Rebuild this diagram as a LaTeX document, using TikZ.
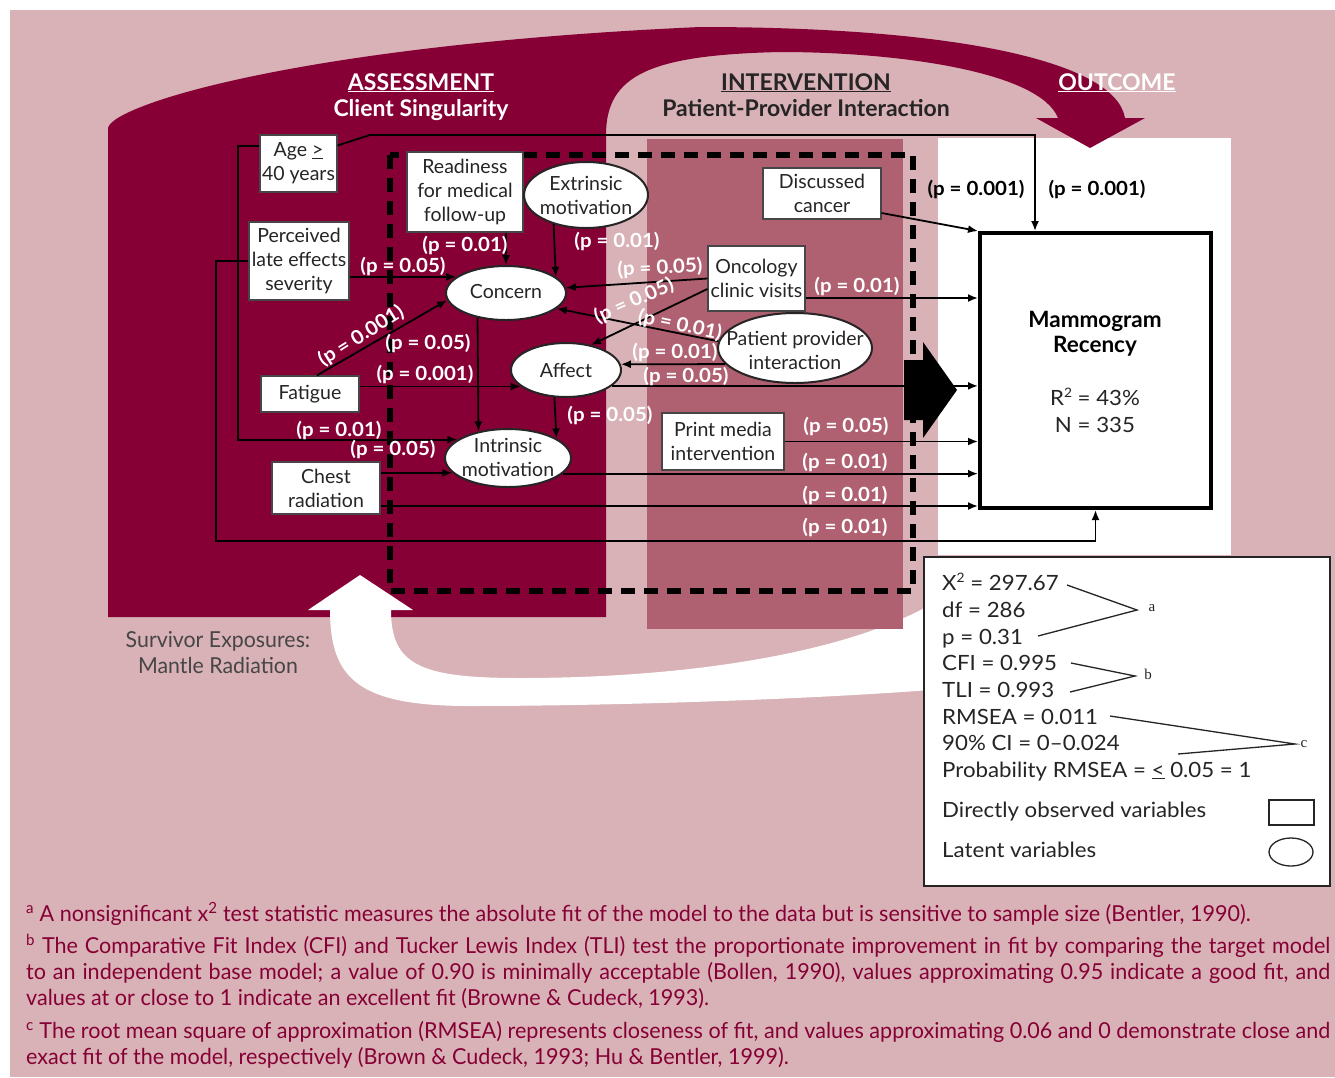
\documentclass[tikz,border=0pt]{standalone}
\usepackage{fontspec}
\setmainfont{Lato}
\newfontfamily\fnfont[FakeStretch=0.98]{Lato}
\newfontfamily\condfont[FakeStretch=0.97]{Lato}
\newfontfamily\legfont[FakeStretch=1.06]{Lato}
\newfontfamily\labfont[FakeStretch=1.05]{Lato}
\newfontfamily\serifsm{Liberation Serif}
\usetikzlibrary{shapes.geometric,arrows.meta,calc}
\definecolor{maroonD}{RGB}{134,0,54}
\definecolor{pinkL}{RGB}{216,178,182}
\definecolor{pinkM}{RGB}{176,97,113}
\definecolor{ink}{RGB}{38,36,37}
\newcommand\fnode{\fontsize{19.5}{24}\selectfont}
\newcommand\fplab{\labfont\bfseries\fontsize{19.5}{20}\selectfont}
\newcommand\fhead{\bfseries\fontsize{23}{26}\selectfont}
\newcommand\fleg{\legfont\fontsize{21}{24}\selectfont}
\newcommand\ffoot{\fnfont\fontsize{22}{26}\selectfont}
\newcommand\supsq{\raisebox{0.75ex}{\fontsize{13}{13}\selectfont 2}}
\begin{document}
\begin{tikzpicture}[x=1pt,y=-1pt,
  obs/.style={draw=ink!85, line width=1.2pt, fill=white, inner sep=0pt, align=center, text=ink, font=\fnode},
  ell/.style={ellipse, draw=ink, line width=2pt, fill=white, inner sep=0pt},
  etext/.style={align=center, text=ink, font=\fnode, inner sep=0pt},
  arr/.style={line width=1.8pt, draw=black, -{Latex[length=10pt,width=8pt]}},
  conn/.style={line width=1.8pt, draw=black},
  plab/.style={text=white, font=\fplab, inner sep=0pt},
  plabk/.style={plab, text=black},
  legt/.style={anchor=base west, text=ink, font=\fleg, inner sep=0pt},
  foot/.style={anchor=base west, text=maroonD, font=\ffoot, inner sep=0pt},
  brk/.style={line width=1.3pt, draw=ink},
  abc/.style={text=ink, font=\serifsm\fontsize{15}{16}\selectfont, inner sep=0pt}
]
\useasboundingbox (0,0) rectangle (1335,1077);
\fill[white] (0,0) rectangle (1335,1077);
\fill[pinkL] (10,10) rectangle (1335,1077);
% outcome panel
\fill[white] (938,138) rectangle (1231,555);
% big maroon arrow
\fill[maroonD] (108,617) -- (108,128) .. controls (112,105) and (300,45) .. (700,27)
  .. controls (950,27) and (1115,60) .. (1125,118) -- (1145,118) -- (1090,148) -- (1036,118) -- (1058,118)
  .. controls (1040,72) and (900,52) .. (780,52) .. controls (650,55) and (606,75) .. (606,135)
  -- (606,617) -- cycle;
% white return arrow
\fill[white] (308,610) -- (360,575) -- (413,610) -- (391,610)
  .. controls (391,665) and (420,678) .. (520,678)
  .. controls (700,678) and (850,650) .. (930,605)
  -- (930,690)
  .. controls (800,700) and (600,706) .. (470,706)
  .. controls (360,706) and (330,680) .. (330,610) -- cycle;
% intervention panel
\fill[pinkM] (647,139) rectangle (903,629);
% dashed frame
\draw[line width=6pt, dash pattern=on 14pt off 9pt] (390,155) rectangle (913,591);

% observed variables
\node[obs, minimum width=77pt, minimum height=57pt] (age) at (298.5,163.5) {Age \underline{>}\\40 years};
\node[obs, minimum width=100pt, minimum height=78pt] (per) at (299,261) {Perceived\\late effects\\severity};
\node[obs, minimum width=116pt, minimum height=80pt] (read) at (465,192) {Readiness\\for medical\\follow-up};
\node[obs, minimum width=98pt, minimum height=36pt] (fat) at (310,394) {Fatigue};
\node[obs, minimum width=108pt, minimum height=52pt] (chest) at (326,488) {Chest\\radiation};
\node[obs, minimum width=118pt, minimum height=51pt] (disc) at (822,193.5) {Discussed\\cancer};
\node[obs, minimum width=97pt, minimum height=65pt] (onc) at (756.5,278.5) {Oncology\\clinic visits};
\node[obs, minimum width=122pt, minimum height=57pt] (print) at (723,441.5) {Print media\\intervention};
\node[draw=black, line width=4pt, fill=white, minimum width=231pt, minimum height=275pt, inner sep=0pt] (mam) at (1095.5,370.5) {};
\node[anchor=base, text=black, font=\bfseries\fontsize{22.5}{26}\selectfont, inner sep=0pt] (mamA) at (1095,327) {Mammogram};
\node[anchor=base, text=black, font=\bfseries\fontsize{22.5}{26}\selectfont, inner sep=0pt] (mamB) at (1095,352) {Recency};
\node[anchor=base, text=ink, font=\fleg, inner sep=0pt] (mamC) at (1095,405) {R\supsq{} = 43\%};
\node[anchor=base, text=ink, font=\fleg, inner sep=0pt] (mamD) at (1095,432) {N = 335};

% latent variables
\node[ell, minimum width=124pt, minimum height=66pt] (ext) at (586,195) {};
\node[etext] (extT) at (586,195) {Extrinsic\\motivation};
\node[ell, minimum width=120pt, minimum height=54pt] (conc) at (506,293) {};
\node[etext] (concT) at (506,292) {Concern};
\node[ell, minimum width=110pt, minimum height=54pt] (aff) at (566,370) {};
\node[etext] (affT) at (566,370) {Affect};
\node[ell, minimum width=126pt, minimum height=58pt] (intr) at (508,458) {};
\node[etext] (intrT) at (508,457) {Intrinsic\\motivation};
\node[ell, minimum width=154pt, minimum height=70pt] (ppi) at (795,348) {};
\node[etext] (ppiT) at (795,350) {Patient provider\\interaction};

% connectors
\coordinate (ageR) at (1035,135);
\coordinate (ageK) at (370,135);
\draw[arr] ([yshift=18pt]age.east) -- (ageK) -- (ageR) -- (ageR |- mam.north);
\coordinate (ageL) at (238,146);
\draw[arr] ([yshift=17.5pt]age.west) -- (ageL) -- (ageL |- intr.160) -- (intr.160);
\draw[arr] (conc.162 -| per.east) -- (conc.162);
\coordinate (perL) at (216,261);
\coordinate (perB) at (216,541);
\draw[arr] (per.west) -- (perL) -- (perB) -- (perB -| mam.south) -- (mam.south);
\draw[arr] (conc.north |- read.south) -- (conc.north);
\draw[arr] (ext.222.7) -- (conc.18);
\draw[arr] (onc.west) -- (conc.5);
\draw[arr] ([yshift=-10.5pt]onc.west) -- (aff.45);
\draw[arr] ([yshift=-19.5pt]onc.east) coordinate (o1) -- (o1 -| mam.west);
\draw[arr] (ppi.175) -- (conc.-17);
\draw[arr] (ppi.193) -- (aff.6.4);
\draw[arr] ([xshift=7pt]fat.north) -- (conc.187);
\draw[arr] (aff.200 -| fat.east) -- (aff.200);
\draw[arr] (conc.221.8) -- (intr.138.4);
\draw[arr] (aff.247.5) -- (intr.22.3);
\draw[arr] (aff.-19.9) -- (aff.-19.9 -| mam.west);
\draw[arr] (intr.-16.9) -- (intr.-16.9 -| mam.west);
\draw[arr] (intr.195.5 -| chest.east) -- (intr.195.5);
\draw[arr] ([yshift=-18pt]chest.east) coordinate (c1) -- (c1 -| mam.west);
\draw[arr] (print.east) -- (print.east -| mam.west);
\draw[arr] ([yshift=-19.5pt]disc.east) -- (mam.north west);

% big black arrow
\fill[black] (904,360) -- (923,360) -- (923,342) -- (957,390) -- (923,438) -- (923,420) -- (904,420) -- cycle;

% path labels
\node[plab] (p1) at (465,245) {(p = 0.01)};
\node[plab] (p2) at (617,241) {(p = 0.01)};
\node[plab] (p3) at (403,266) {(p = 0.05)};
\node[plab, rotate=3] (p4) at (660,268) {(p = 0.05)};
\node[plab, rotate=24] (p5) at (634,301) {(p = 0.05)};
\node[plab, rotate=-12] (p6) at (680,325) {(p = 0.01)};
\node[plab] (p7) at (857,286) {(p = 0.01)};
\node[plab, rotate=32] (p8) at (361,336) {(p = 0.001)};
\node[plab] (p9) at (428,343) {(p = 0.05)};
\node[plab] (p10) at (425,374) {(p = 0.001)};
\node[plab] (p11) at (675,352) {(p = 0.01)};
\node[plab] (p12) at (686,376) {(p = 0.05)};
\node[plab] (p13) at (610,415) {(p = 0.05)};
\node[plab] (p14) at (339,430) {(p = 0.01)};
\node[plab] (p15) at (393,449) {(p = 0.05)};
\node[plab] (p16) at (846,426) {(p = 0.05)};
\node[plab] (p17) at (845,462) {(p = 0.01)};
\node[plab] (p18) at (845,495) {(p = 0.01)};
\node[plab] (p19) at (845,527) {(p = 0.01)};
\node[plabk] (p20) at (976,189) {(p = 0.001)};
\node[plabk] (p21) at (1097,189) {(p = 0.001)};

% headers
\node[anchor=base, text=white, font=\fhead, inner sep=0pt] (hA1) at (421,90) {\underline{ASSESSMENT}};
\node[anchor=base, text=white, font=\fhead, inner sep=0pt] (hA2) at (421,116) {Client Singularity};
\node[anchor=base, text=ink, font=\fhead, inner sep=0pt] (hI1) at (806,90) {\underline{INTERVENTION}};
\node[anchor=base, text=ink, font=\fhead, inner sep=0pt] (hI2) at (806,116) {Patient-Provider Interaction};
\node[anchor=base, text=white, font=\fhead, inner sep=0pt] (hO1) at (1117,90) {\underline{OUTCOME}};
\node[anchor=base, text=ink!85, font=\condfont\fontsize{22}{26}\selectfont, inner sep=0pt] (sv1) at (218,647) {Survivor Exposures:};
\node[anchor=base, text=ink!85, font=\condfont\fontsize{22}{26}\selectfont, inner sep=0pt] (sv2) at (218,673) {Mantle Radiation};

% legend
\node[draw=ink, line width=2.5pt, fill=white, minimum width=406pt, minimum height=329pt, inner sep=0pt] (leg) at (1127,721.5) {};
\node[legt] (lg1) at (942,590) {X\supsq{} = 297.67};
\node[legt] (lg2) at (942,617) {df = 286};
\node[legt] (lg3) at (942,644) {p = 0.31};
\node[legt] (lg4) at (942,670) {CFI = 0.995};
\node[legt] (lg5) at (942,697) {TLI = 0.993};
\node[legt] (lg6) at (942,724) {RMSEA = 0.011};
\node[legt] (lg7) at (942,750) {90\% CI = 0–0.024};
\node[legt] (lg8) at (942,777) {Probability RMSEA = \underline{<} 0.05 = 1};
\node[legt] (lg9) at (942,817) {Directly observed variables};
\node[legt] (lg10) at (942,857) {Latent variables};
\node[draw=ink, line width=1.3pt, minimum width=45pt, minimum height=25pt, inner sep=0pt] (lgbox) at (1291.5,812.5) {};
\node[ellipse, draw=ink, line width=1.3pt, minimum width=44pt, minimum height=28pt, inner sep=0pt] (lgell) at (1291,852) {};
\node[abc] (la) at (1152,608) {a};
\node[abc] (lb) at (1148,674) {b};
\node[abc] (lc) at (1304,744) {c};
\coordinate (a1) at (1067,585); \coordinate (a2) at (1137,610); \coordinate (a3) at (1038,636);
\coordinate (b1) at (1071,663); \coordinate (b2) at (1135,676); \coordinate (b3) at (1070,692);
\coordinate (c1a) at (1110,716); \coordinate (c2) at (1295,744); \coordinate (c3) at (1178,754);
\draw[brk] (a1) -- (a2) -- (a3);
\draw[brk] (b1) -- (b2) -- (b3);
\draw[brk] (c1a) -- (c2) -- (c3);

% footnotes
\node[foot] (f1) at (26,921) {\textsuperscript{a} A nonsignificant x\textsuperscript{2} test statistic measures the absolute fit of the model to the data but is sensitive to sample size (Bentler, 1990).};
\node[foot] (f2) at (26,953) {\makebox[1304pt][s]{\textsuperscript{b} The Comparative Fit Index (CFI) and Tucker Lewis Index (TLI) test the proportionate improvement in fit by comparing the target model}};
\node[foot] (f3) at (26,979) {\makebox[1304pt][s]{to an independent base model; a value of 0.90 is minimally acceptable (Bollen, 1990), values approximating 0.95 indicate a good fit, and}};
\node[foot] (f4) at (26,1005) {values at or close to 1 indicate an excellent fit (Browne \& Cudeck, 1993).};
\node[foot] (f5) at (26,1038) {\makebox[1304pt][s]{\textsuperscript{c} The root mean square of approximation (RMSEA) represents closeness of fit, and values approximating 0.06 and 0 demonstrate close and}};
\node[foot] (f6) at (26,1064) {exact fit of the model, respectively (Brown \& Cudeck, 1993; Hu \& Bentler, 1999).};
\end{tikzpicture}
\end{document}
